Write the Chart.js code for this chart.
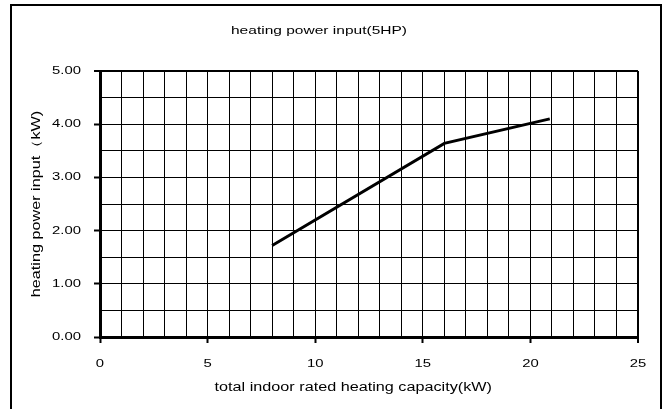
<!DOCTYPE html>
<html>
<head>
<meta charset="utf-8">
<script src="https://cdn.jsdelivr.net/npm/chart.js@4/dist/chart.umd.min.js"></script>
<style>
  body { margin: 0; background: #fff; overflow: hidden; }
  #wrap { position: relative; width: 662px; height: 409px; }
  #frame { position: absolute; left: 10px; top: 4px; width: 648px; height: 420px;
           border: 2px solid #000; border-bottom: none; pointer-events: none; }
</style>
</head>
<body>
<div id="wrap">
  <canvas id="chart" width="662" height="409"></canvas>
  <div id="frame"></div>
</div>
<script>
        const chartTitle = 'heating power input(5HP)';
        const xTitle = 'total indoor rated heating capacity(kW)';
        const yTitle = 'heating power input（kW)';

        const capacity = [8, 16, 20.9];
        const powerInput = [1.72, 3.64, 4.1];

        const xMin = 0, xMax = 25, xStep = 1, xLabelEvery = 5;
        const yMin = 0, yMax = 5, yStep = 0.5;

        // the original lettering is wide, stretch text horizontally
        const textStretch = 1.35;

        chartIt();

        function chartIt(){

            const points = capacity.map((x, i) => ({ x: x, y: powerInput[i] }));
            const family = '"Liberation Sans", Arial, sans-serif';
            const font = { family: family, size: 11 };

            const ctx = document.getElementById('chart').getContext('2d');

            const fill = ctx.fillText.bind(ctx);
            const measure = ctx.measureText.bind(ctx);
            ctx.fillText = function(text, x, y){
                ctx.save();
                ctx.translate(x, y);
                ctx.scale(textStretch, 1);
                fill(text, 0, 0);
                ctx.restore();
            };
            ctx.measureText = function(text){
                return { width: measure(text).width * textStretch };
            };

            const myChart = new Chart(ctx, {
                type: 'scatter',
                data: {
                    datasets: [{
                        data: points,
                        showLine: true,
                        borderColor: '#000',
                        borderWidth: 3,
                        pointRadius: 0,
                        fill: false
                    }]
                },
                options: {
                    responsive: false,
                    animation: false,
                    layout: { padding: { left: 0, top: 0, right: 24, bottom: 0 } },
                    plugins: {
                        legend: { display: false },
                        tooltip: { enabled: false },
                        title: {
                            display: true,
                            text: chartTitle,
                            color: '#000',
                            font: { family: family, size: 11.5, weight: 'normal' },
                            padding: { top: 24, bottom: 33.2 }
                        }
                    },
                    scales: {
                        x: {
                            type: 'linear',
                            min: xMin,
                            max: xMax,
                            afterFit: scale => { scale.height = 72; },
                            border: { color: '#000', width: 3 },
                            grid: {
                                color: '#000',
                                lineWidth: c => c.tick && c.tick.value === xMax ? 2 : 1,
                                tickLength: 6,
                                tickColor: c => c.tick && c.tick.value % xLabelEvery === 0 ? '#000' : 'rgba(0,0,0,0)',
                                tickWidth: 2
                            },
                            ticks: {
                                stepSize: xStep,
                                autoSkip: false,
                                maxRotation: 0,
                                padding: 14,
                                color: '#000',
                                font: font,
                                callback: v => v % xLabelEvery === 0 ? String(v) : ''
                            },
                            title: {
                                display: true,
                                text: xTitle + '       ',
                                color: '#000',
                                font: { family: family, size: 12 },
                                padding: { top: 0, bottom: 14 }
                            }
                        },
                        y: {
                            min: yMin,
                            max: yMax,
                            afterFit: scale => { scale.width = 100; },
                            border: { color: '#000', width: 3 },
                            grid: {
                                color: '#000',
                                lineWidth: c => c.tick && c.tick.value === yMax ? 2 : 1,
                                tickLength: 6,
                                tickColor: c => c.tick && c.tick.value % 1 === 0 ? '#000' : 'rgba(0,0,0,0)',
                                tickWidth: 2
                            },
                            ticks: {
                                stepSize: yStep,
                                autoSkip: false,
                                padding: 13,
                                color: '#000',
                                font: font,
                                callback: v => v % 1 === 0 ? v.toFixed(2) : ''
                            },
                            title: {
                                display: true,
                                text: yTitle,
                                color: '#000',
                                font: { family: family, size: 12 },
                                padding: { top: 29, bottom: 0 }
                            }
                        }
                    }
                }
            });
        };
</script>
</body>
</html>
